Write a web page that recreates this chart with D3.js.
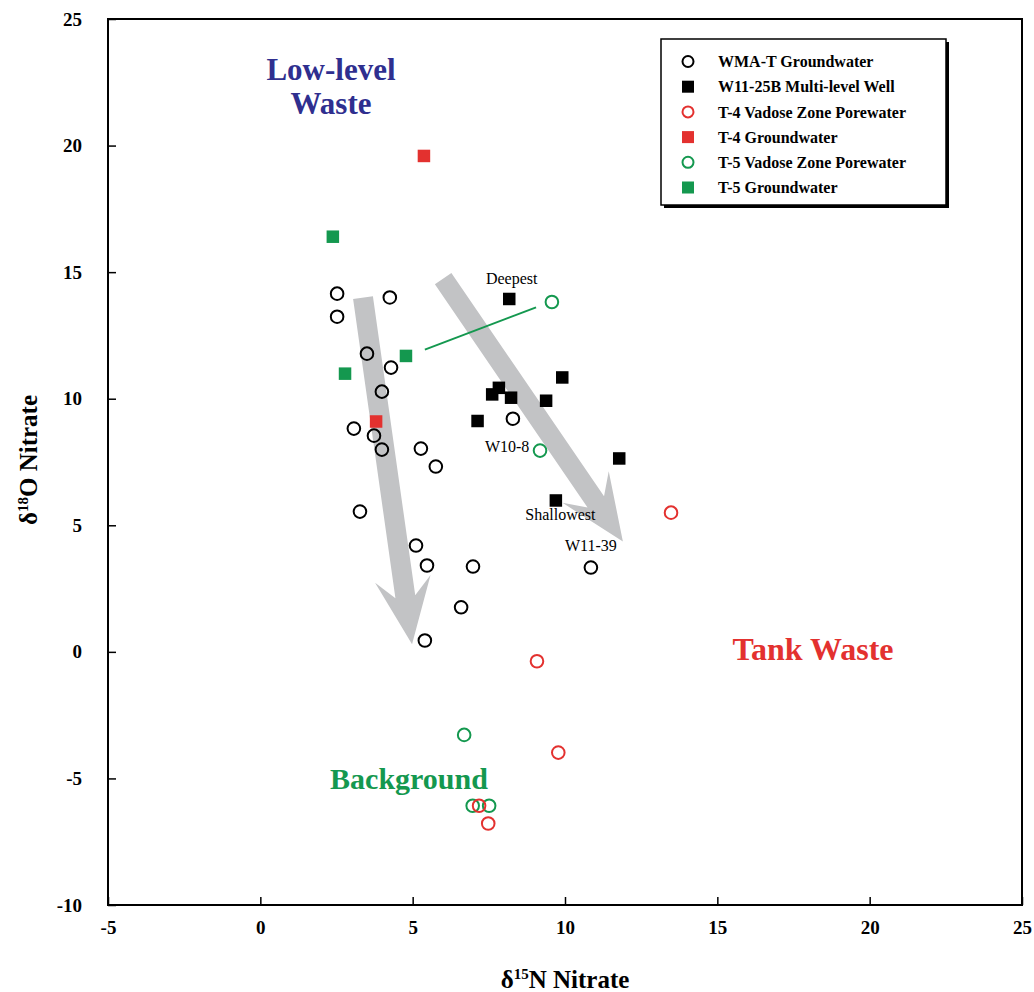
<!DOCTYPE html>
<html>
<head>
<meta charset="utf-8">
<script src="https://cdn.jsdelivr.net/npm/d3@7"></script>
<style>
  body { margin: 0; background: #fff; }
  svg text { font-family: "Liberation Serif", "Times New Roman", serif; }
</style>
</head>
<body>
<div id="chart"></div>
<script>
// data: [d15N, d18O]
var wmaT = [[2.52,14.15],[2.52,13.24],[4.25,14.0],[3.5,11.78],[4.29,11.23],[3.99,10.28],
    [3.07,8.82],[3.73,8.54],[3.99,7.99],[5.27,8.03],[5.76,7.32],[3.27,5.54],[5.11,4.2],
    [5.47,3.41],[6.98,3.37],[6.59,1.76],[5.40,0.45],[8.29,9.21],[10.85,3.33]];
var w1125b = [[8.17,13.94],[9.91,10.84],[7.83,10.43],[7.61,10.17],[8.23,10.04],[9.38,9.92],
    [7.13,9.12],[11.78,7.64],[9.70,5.98]];
var t4Vadose = [[13.48,5.5],[9.08,-0.37],[9.78,-3.98],[7.18,-6.08],[7.48,-6.78]];
var t4Ground = [[5.37,19.59],[3.80,9.10]];
var t5Vadose = [[9.57,13.82],[9.18,7.95],[6.69,-3.28],[6.97,-6.08],[7.51,-6.08]];
var t5Ground = [[2.38,16.40],[2.78,10.99],[4.78,11.69]];
var t5Link = [[5.40,11.94],[9.05,13.61]];
var arrows = [[[3.37,13.99],[4.98,0.30]], [[6.0,14.74],[11.9,4.36]]];
var pointLabels = [
    {text: "Deepest", x: 8.25, y: 14.55},
    {text: "W10-8", x: 8.1, y: 7.9},
    {text: "Shallowest", x: 9.85, y: 5.2},
    {text: "W11-39", x: 10.85, y: 4.0}
];
var xTicks = [-5, 0, 5, 10, 15, 20, 25];
var yTicks = [-10, -5, 0, 5, 10, 15, 20, 25];

var red = "#e3312f", green = "#14984f", blue = "#2f2f8f", grey = "#c2c3c5";

var legendItems = [
    {label: "WMA-T Groundwater", shape: "circle", color: "#000"},
    {label: "W11-25B Multi-level Well", shape: "square", color: "#000"},
    {label: "T-4 Vadose Zone Porewater", shape: "circle", color: red},
    {label: "T-4 Groundwater", shape: "square", color: red},
    {label: "T-5 Vadose Zone Porewater", shape: "circle", color: green},
    {label: "T-5 Groundwater", shape: "square", color: green}
];

var width = 1034, height = 992;

var svg = d3.select("#chart").append("svg")
    .attr("width", width)
    .attr("height", height);

var x = d3.scaleLinear().domain([-5, 25]).range([108, 1022]);
var y = d3.scaleLinear().domain([-10, 25]).range([905, 19]);

// frame
svg.append("rect")
    .attr("x", x(-5)).attr("y", y(25))
    .attr("width", x(25) - x(-5)).attr("height", y(-10) - y(25))
    .attr("fill", "none").attr("stroke", "#000").attr("stroke-width", 2);

// axes, ticks point inward, plain hyphen for negatives
var fmt = function (d) { return String(d); };
var xAxis = svg.append("g")
    .attr("transform", "translate(0," + y(-10) + ")")
    .call(d3.axisBottom(x).tickValues(xTicks).tickFormat(fmt)
        .tickSizeInner(-8).tickSizeOuter(0).tickPadding(16));
var yAxis = svg.append("g")
    .attr("transform", "translate(" + x(-5) + ",0)")
    .call(d3.axisLeft(y).tickValues(yTicks).tickFormat(fmt)
        .tickSizeInner(-8).tickSizeOuter(0).tickPadding(26));

[xAxis, yAxis].forEach(function (g) {
    g.select(".domain").remove();
    g.selectAll("line").attr("stroke", "#000").attr("stroke-width", 1.5);
    g.selectAll("text")
        .style("font-family", "'Liberation Serif', serif")
        .style("font-weight", "bold")
        .style("font-size", "19px")
        .attr("fill", "#000");
});

// axis titles
var xt = svg.append("text")
    .attr("x", 565).attr("y", 988)
    .attr("text-anchor", "middle")
    .style("font-weight", "bold").style("font-size", "25px");
xt.append("tspan").text("δ");
xt.append("tspan").text("15").style("font-size", "15px").attr("dy", -9);
xt.append("tspan").text("N Nitrate").attr("dy", 9);

var yt = svg.append("text")
    .attr("transform", "translate(37,460) rotate(-90)")
    .attr("text-anchor", "middle")
    .style("font-weight", "bold").style("font-size", "25px");
yt.append("tspan").text("δ");
yt.append("tspan").text("18").style("font-size", "15px").attr("dy", -9);
yt.append("tspan").text("O Nitrate").attr("dy", 9);

// grey trend arrows
function arrowPath(a) {
    var x0 = x(a[0][0]), y0 = y(a[0][1]), x1 = x(a[1][0]), y1 = y(a[1][1]);
    var dx = x1 - x0, dy = y1 - y0, len = Math.sqrt(dx * dx + dy * dy);
    var ux = dx / len, uy = dy / len, px = -uy, py = ux;
    var hw = 10, headLen = 62, headW = 28, notch = 14;
    var bx = x1 - ux * headLen, by = y1 - uy * headLen;
    var nx = bx + ux * notch, ny = by + uy * notch;
    var pts = [
        [x0 + px * hw, y0 + py * hw],
        [nx + px * hw, ny + py * hw],
        [bx + px * headW - ux * 4, by + py * headW - uy * 4],
        [x1, y1],
        [bx - px * headW - ux * 4, by - py * headW - uy * 4],
        [nx - px * hw, ny - py * hw],
        [x0 - px * hw, y0 - py * hw]
    ];
    return "M" + pts.map(function (p) { return p.join(","); }).join("L") + "Z";
}

svg.selectAll("path.arrow")
    .data(arrows)
    .enter()
    .append("path")
    .attr("class", "arrow")
    .attr("d", arrowPath)
    .attr("fill", grey);

// green link line
svg.append("path")
    .attr("d", d3.line().x(function (d) { return x(d[0]); }).y(function (d) { return y(d[1]); })(t5Link))
    .attr("stroke", green).attr("stroke-width", 2).attr("fill", "none");

function drawCircles(data, color) {
    svg.append("g").selectAll("circle")
        .data(data)
        .enter()
        .append("circle")
        .attr("cx", function (d) { return x(d[0]); })
        .attr("cy", function (d) { return y(d[1]); })
        .attr("r", 6.3)
        .attr("fill", "none")
        .attr("stroke", color)
        .attr("stroke-width", 2);
}

function drawSquares(data, color) {
    var s = 12.5;
    svg.append("g").selectAll("rect")
        .data(data)
        .enter()
        .append("rect")
        .attr("x", function (d) { return x(d[0]) - s / 2; })
        .attr("y", function (d) { return y(d[1]) - s / 2; })
        .attr("width", s).attr("height", s)
        .attr("fill", color);
}

drawCircles(wmaT, "#000");
drawSquares(w1125b, "#000");
drawCircles(t5Vadose, green);
drawCircles(t4Vadose, red);
drawSquares(t4Ground, red);
drawSquares(t5Ground, green);

// point labels
svg.selectAll("text.plabel")
    .data(pointLabels)
    .enter()
    .append("text")
    .attr("class", "plabel")
    .attr("x", function (d) { return x(d.x); })
    .attr("y", function (d) { return y(d.y); })
    .attr("text-anchor", "middle")
    .style("font-size", "16px")
    .text(function (d) { return d.text; });

// region labels
function bigLabel(txt, px, py, color, size) {
    svg.append("text")
        .attr("x", px).attr("y", py)
        .attr("text-anchor", "middle")
        .attr("fill", color)
        .style("font-weight", "bold").style("font-size", size + "px")
        .text(txt);
}
bigLabel("Low-level", 331, 80, blue, 31);
bigLabel("Waste", 331, 114, blue, 31);
bigLabel("Tank Waste", 813, 660, red, 32);
bigLabel("Background", 409, 789, green, 30);

// legend
var lg = svg.append("g").attr("transform", "translate(661,39)");
lg.append("rect").attr("x", 3).attr("y", 3).attr("width", 285).attr("height", 166).attr("fill", "#000");
lg.append("rect").attr("width", 285).attr("height", 166)
    .attr("fill", "#fff").attr("stroke", "#000").attr("stroke-width", 1.5);

var row = lg.selectAll("g.row")
    .data(legendItems)
    .enter()
    .append("g")
    .attr("class", "row")
    .attr("transform", function (d, i) { return "translate(27," + (22.5 + i * 25.2) + ")"; });

row.filter(function (d) { return d.shape === "circle"; })
    .append("circle")
    .attr("r", 5.5).attr("fill", "none")
    .attr("stroke", function (d) { return d.color; }).attr("stroke-width", 2);
row.filter(function (d) { return d.shape === "square"; })
    .append("rect")
    .attr("x", -6).attr("y", -6).attr("width", 12).attr("height", 12)
    .attr("fill", function (d) { return d.color; });

row.append("text")
    .attr("x", 30).attr("dy", "0.35em")
    .style("font-weight", "bold").style("font-size", "16px")
    .text(function (d) { return d.label; });
</script>
</body>
</html>
